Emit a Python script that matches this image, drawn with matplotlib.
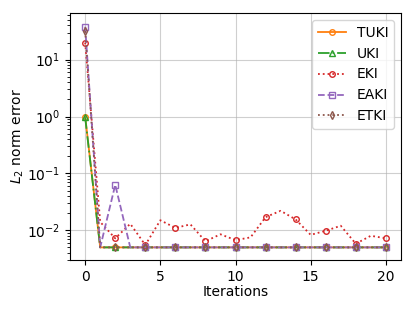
import numpy as np
import matplotlib
matplotlib.use("Agg")
from matplotlib import pyplot as plt

iterations = np.arange(21)
conv = 0.005

tuki = [1.0] + [conv] * 20
uki = [0.97] + [conv] * 20
eki = [20, 0.014, 0.0072, 0.013, 0.0055, 0.015, 0.011, 0.0127, 0.0064, 0.0085, 0.0067,
       0.0075, 0.017, 0.022, 0.0155, 0.0083, 0.0098, 0.012, 0.0058, 0.008, 0.0072]
eaki = [38, conv, 0.063] + [conv] * 18
etki = [32] + [conv] * 20

fig, ax = plt.subplots(figsize=(4.15, 3.11), dpi=100)
kw = dict(markevery=2, fillstyle='none', markersize=4, linewidth=1.3)
ax.plot(iterations, tuki, '-o', color='C1', label='TUKI', **kw)
ax.plot(iterations, uki, '-.^', color='C2', label='UKI', **kw)
ax.plot(iterations, eki, ':o', color='C3', label='EKI', **kw)
ax.plot(iterations, eaki, '--s', color='C4', label='EAKI', **kw)
ax.plot(iterations, etki, ':d', color='C5', label='ETKI', **kw)

ax.set_yscale('log')
ax.set_ylim(0.003, 66)
ax.set_xticks([0, 5, 10, 15, 20])
ax.grid(True, color='#b0b0b0', alpha=0.6)
ax.set_xlabel('Iterations', labelpad=1)
ax.set_ylabel(r'$L_2$ norm error')
ax.yaxis.set_label_coords(-0.132, 0.5)
ax.legend(loc='upper right')

fig.subplots_adjust(left=0.169, right=0.966, top=0.958, bottom=0.164)
fig.savefig('out.png')
